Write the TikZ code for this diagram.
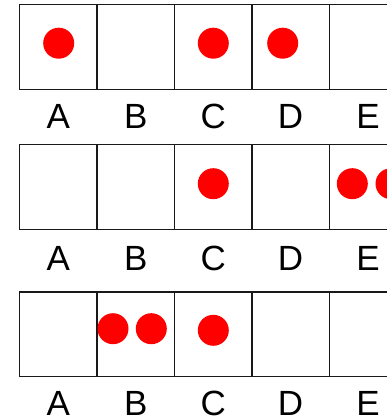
\documentclass[tikz,border=0pt]{standalone}
\usepackage{fontspec}
\setmainfont{Liberation Sans}
\begin{document}
\begin{tikzpicture}[x=1pt,y=-1pt,
 cell/.style={draw=black!90, line width=1.3pt, rectangle, minimum width=77.4pt, minimum height=84.6pt, inner sep=0pt, outer sep=0pt},
 dot/.style={circle, fill=red, minimum size=31pt, inner sep=0pt, outer sep=0pt},
 lbl/.style={font=\fontsize{35}{42}\selectfont, anchor=base, inner sep=0pt}]
\useasboundingbox (0,0) rectangle (387,420);
\clip (0,0) rectangle (387,420);
\foreach \r/\t/\b in {1/47/128, 2/187/270, 3/334.3/415.7} {
  \foreach \c [count=\i from 0] in {A,B,C,D,E} {
    \node[cell] (r\r\c) at ({58.4+77.4*\i},\t) {};
    \node[lbl] (l\r\c) at ({58.4+77.4*\i},\b) {\c};
  }
}
\node[dot] (d1A) at (58.7,43.2) {};
\node[dot] (d1C) at (213.3,43.2) {};
\node[dot] (d1D) at (282.7,43.2) {};
\node[dot] (d2C) at (213.3,183.7) {};
\node[dot] (d2E1) at (352.3,183.7) {};
\node[dot] (d2E2) at (391,183.7) {};
\node[dot] (d3B1) at (113,328.7) {};
\node[dot] (d3B2) at (151.3,328.7) {};
\node[dot] (d3C) at (213.3,330.3) {};
\end{tikzpicture}
\end{document}
